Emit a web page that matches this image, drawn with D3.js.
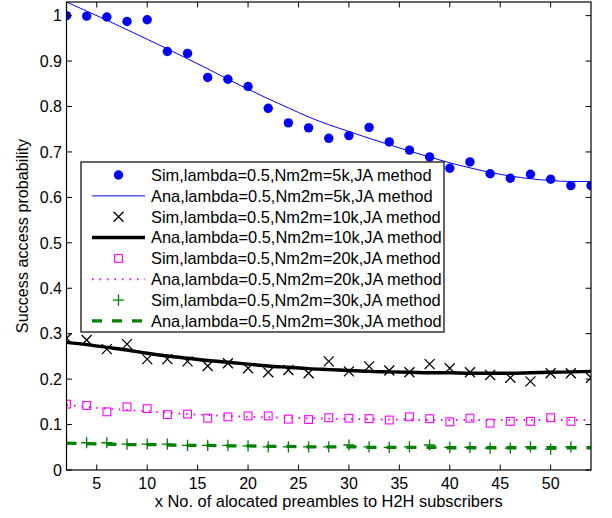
<!DOCTYPE html>
<html><head><meta charset="utf-8">
<script src="https://cdn.jsdelivr.net/npm/d3@7"></script>
<style>
html,body{margin:0;padding:0;background:#fff;}
svg{display:block;font-family:"Liberation Sans",Arial,sans-serif;}
</style></head>
<body>
<svg id="chart" width="612" height="518"></svg>
<script>
const xSim = [2,4,6,8,10,12,14,16,18,20,22,24,26,28,30,32,34,36,38,40,42,44,46,48,50,52,54];
const xAna = [2,4,6,8,10,12,14,16,18,20,22,24,26,28,30,32,34,36,38,40,42,44,46,48,50,52,54];

const sim5k  = [1.0,0.999,0.997,0.987,0.991,0.921,0.917,0.864,0.860,0.844,0.796,0.764,0.753,0.730,0.736,0.754,0.722,0.704,0.689,0.664,0.678,0.652,0.642,0.651,0.640,0.626,0.626];
const ana5k  = [1.030,1.010,0.990,0.969,0.948,0.927,0.905,0.883,0.860,0.838,0.817,0.797,0.777,0.760,0.745,0.730,0.716,0.702,0.689,0.676,0.665,0.655,0.647,0.641,0.637,0.635,0.635];
const sim10k = [0.290,0.286,0.266,0.277,0.244,0.244,0.239,0.229,0.235,0.224,0.215,0.220,0.213,0.239,0.217,0.228,0.219,0.215,0.233,0.224,0.215,0.209,0.203,0.195,0.213,0.213,0.203];
const ana10k = [0.281,0.276,0.270,0.264,0.257,0.251,0.246,0.241,0.237,0.233,0.229,0.226,0.223,0.221,0.219,0.217,0.216,0.215,0.214,0.214,0.213,0.213,0.213,0.214,0.215,0.216,0.217];
const xSim20k = [2,4,6,8,10,12,14,16,18,20,22,24,26,28,30,32,34,36,38,40,42,44,46,48,50,52];
const sim20k = [0.145,0.142,0.128,0.139,0.135,0.122,0.123,0.114,0.117,0.119,0.119,0.112,0.111,0.115,0.114,0.113,0.110,0.117,0.113,0.106,0.114,0.103,0.107,0.107,0.115,0.107];
const ana20k = [0.143,0.139,0.135,0.132,0.129,0.126,0.123,0.121,0.119,0.117,0.116,0.115,0.114,0.113,0.112,0.112,0.111,0.111,0.110,0.110,0.110,0.110,0.110,0.110,0.110,0.110,0.110];
const xSim30k = [2,4,6,8,10,12,14,16,18,20,22,24,26,28,30,32,34,36,38,40,42,44,46,48,50,52];
const sim30k = [0.060,0.060,0.060,0.057,0.057,0.057,0.054,0.054,0.054,0.053,0.051,0.051,0.051,0.051,0.055,0.051,0.050,0.051,0.055,0.050,0.050,0.048,0.048,0.051,0.046,0.051];
const ana30k = [0.059,0.058,0.057,0.056,0.056,0.055,0.054,0.054,0.053,0.053,0.052,0.052,0.051,0.051,0.051,0.050,0.050,0.050,0.050,0.049,0.049,0.049,0.049,0.049,0.049,0.049,0.049];

const xTicks = [5,10,15,20,25,30,35,40,45,50];
const yTicks = [0,0.1,0.2,0.3,0.4,0.5,0.6,0.7,0.8,0.9,1];
const yTickLabels = ["0","0.1","0.2","0.3","0.4","0.5","0.6","0.7","0.8","0.9","1"];
const legendLabels = [
  "Sim,lambda=0.5,Nm2m=5k,JA method",
  "Ana,lambda=0.5,Nm2m=5k,JA method",
  "Sim,lambda=0.5,Nm2m=10k,JA method",
  "Ana,lambda=0.5,Nm2m=10k,JA method",
  "Sim,lambda=0.5,Nm2m=20k,JA method",
  "Ana,lambda=0.5,Nm2m=20k,JA method",
  "Sim,lambda=0.5,Nm2m=30k,JA method",
  "Ana,lambda=0.5,Nm2m=30k,JA method"
];
const xLabel = "x No. of alocated preambles to H2H subscribers";
const yLabel = "Success access probability";

const svg = d3.select("#chart");
const L = 66.5, R = 591, T = 2, B = 470;
const x = d3.scaleLinear().domain([2,54]).range([L,R]);
const y = d3.scaleLinear().domain([0,1.03]).range([B,T]);

svg.append("defs").append("clipPath").attr("id","clip")
  .append("rect").attr("x",L).attr("y",T).attr("width",R-L).attr("height",B-T);

const plot = svg.append("g").attr("clip-path","url(#clip)");
const line = d3.line().x(d=>x(d[0])).y(d=>y(d[1])).curve(d3.curveMonotoneX);
const zip = (xs,ys)=>xs.map((v,i)=>[v,ys[i]]);

const BLUE="#0000ff", MAG="#ff00ff", GREEN="#008000";

function drawMarker(g, type, cx, cy, color){
  if(type==="circle"){
    g.append("circle").attr("cx",cx).attr("cy",cy).attr("r",4.7).attr("fill",color);
  } else if(type==="x"){
    const s=5;
    g.append("path").attr("d",`M${cx-s},${cy-s}L${cx+s},${cy+s}M${cx-s},${cy+s}L${cx+s},${cy-s}`)
      .attr("stroke",color).attr("stroke-width",1.3).attr("fill","none");
  } else if(type==="square"){
    const s=3.9;
    g.append("rect").attr("x",cx-s).attr("y",cy-s).attr("width",2*s).attr("height",2*s)
      .attr("stroke",color).attr("stroke-width",1.1).attr("fill","none");
  } else if(type==="plus"){
    const s=5.6;
    g.append("path").attr("d",`M${cx-s},${cy}L${cx+s},${cy}M${cx},${cy-s}L${cx},${cy+s}`)
      .attr("stroke",color).attr("stroke-width",1.3).attr("fill","none");
  }
}

const series = [
  {kind:"marker", type:"circle", color:BLUE, xs:xSim, ys:sim5k},
  {kind:"line", color:BLUE, w:1, dash:null, xs:xAna, ys:ana5k},
  {kind:"marker", type:"x", color:"#000", xs:xSim, ys:sim10k},
  {kind:"line", color:"#000", w:3.4, dash:null, xs:xAna, ys:ana10k},
  {kind:"marker", type:"square", color:MAG, xs:xSim20k, ys:sim20k},
  {kind:"line", color:MAG, w:2, dash:"1.5,6", xs:xAna, ys:ana20k},
  {kind:"marker", type:"plus", color:GREEN, xs:xSim30k, ys:sim30k},
  {kind:"line", color:GREEN, w:3.3, dash:"10,10", xs:xAna, ys:ana30k}
];

series.forEach(s=>{
  if(s.kind==="marker"){
    const g = plot.append("g");
    zip(s.xs,s.ys).forEach(d=>drawMarker(g,s.type,x(d[0]),y(d[1]),s.color));
  } else {
    plot.append("path").datum(zip(s.xs,s.ys)).attr("d",line)
      .attr("fill","none").attr("stroke",s.color).attr("stroke-width",s.w)
      .attr("stroke-dasharray",s.dash);
  }
});

// axes box and ticks
const axisG = svg.append("g");
const tickLen = 5.5;
xTicks.forEach(t=>{
  axisG.append("line").attr("x1",x(t)).attr("x2",x(t)).attr("y1",B).attr("y2",B-tickLen).attr("stroke","#000");
  axisG.append("line").attr("x1",x(t)).attr("x2",x(t)).attr("y1",T).attr("y2",T+tickLen).attr("stroke","#000");
  axisG.append("text").attr("x",x(t)).attr("y",488.5).attr("text-anchor","middle")
    .attr("font-size",16).attr("fill","#000").text(t);
});
yTicks.forEach((t,i)=>{
  axisG.append("line").attr("x1",L).attr("x2",L+tickLen).attr("y1",y(t)).attr("y2",y(t)).attr("stroke","#000");
  axisG.append("line").attr("x1",R).attr("x2",R-tickLen).attr("y1",y(t)).attr("y2",y(t)).attr("stroke","#000");
  axisG.append("text").attr("x",L-4.5).attr("y",y(t)+5.8).attr("text-anchor","end")
    .attr("font-size",16).attr("fill","#000").text(yTickLabels[i]);
});
axisG.append("rect").attr("x",L).attr("y",T).attr("width",R-L).attr("height",B-T)
  .attr("fill","none").attr("stroke","#000").attr("stroke-width",1.2);

svg.append("text").attr("x",(L+R)/2).attr("y",507).attr("text-anchor","middle")
  .attr("font-size",16.4).attr("fill","#000").text(xLabel);
svg.append("text").attr("transform",`translate(27.5,${(T+B)/2}) rotate(-90)`).attr("text-anchor","middle")
  .attr("font-size",16.2).attr("fill","#000").text(yLabel);

// legend
const lg = svg.append("g");
lg.append("rect").attr("x",81).attr("y",162).attr("width",363).attr("height",170)
  .attr("fill","#fff").attr("stroke","#000").attr("stroke-width",1.2);
series.forEach((s,i)=>{
  const cy = 175 + i*20.85;
  if(s.kind==="marker"){
    drawMarker(lg,s.type,118.5,cy,s.color);
  } else {
    lg.append("line").attr("x1",92).attr("x2",145).attr("y1",cy).attr("y2",cy)
      .attr("stroke",s.color).attr("stroke-width",s.w).attr("stroke-dasharray",s.dash);
  }
  lg.append("text").attr("x",151).attr("y",cy+5.8).attr("font-size",16.4).attr("fill","#000")
    .text(legendLabels[i]);
});
</script>
</body></html>
